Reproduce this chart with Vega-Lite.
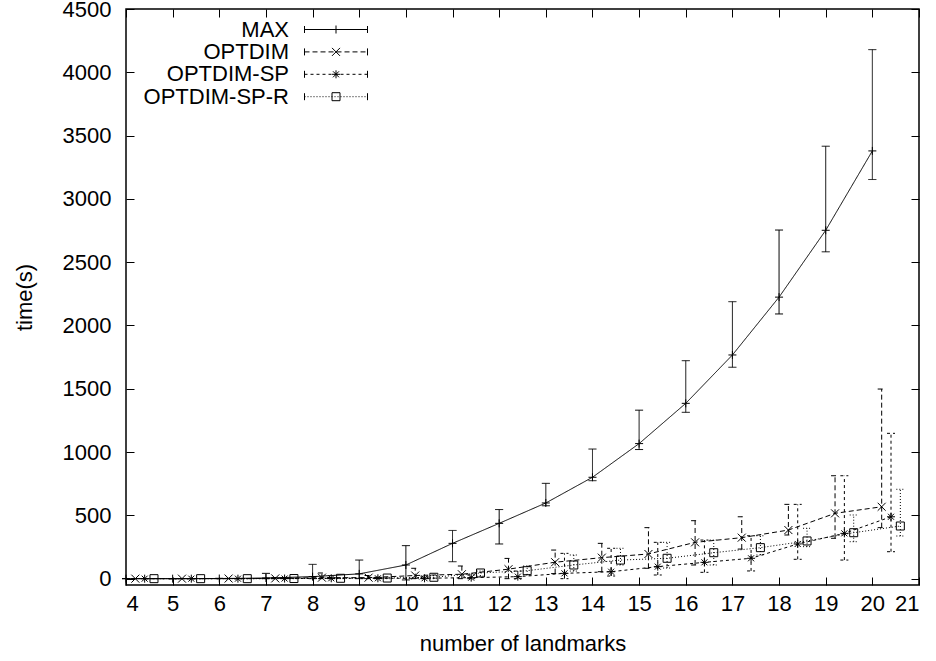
{
  "$schema": "https://vega.github.io/schema/vega-lite/v6.json",
  "width": 793,
  "height": 576,
  "autosize": "none",
  "padding": {"left": 126, "top": 9, "right": 17, "bottom": 76},
  "background": "white",
  "config": {
    "view": {"stroke": "black", "strokeWidth": 1.5},
    "axis": {
      "labelFont": "Liberation Sans", "labelFontSize": 22, "labelColor": "black",
      "titleFont": "Liberation Sans", "titleFontSize": 22, "titleFontWeight": "normal", "titleColor": "black",
      "grid": false, "domain": false, "tickColor": "black", "tickSize": -8, "tickWidth": 1, "format": "d"
    }
  },
  "data": {"values": [
    {"series": "MAX", "x": 4, "y": 0, "lo": 0, "hi": 1},
    {"series": "MAX", "x": 5, "y": 0, "lo": 0, "hi": 1},
    {"series": "MAX", "x": 6, "y": 1, "lo": 0, "hi": 3},
    {"series": "MAX", "x": 7, "y": 5, "lo": 0, "hi": 42},
    {"series": "MAX", "x": 8, "y": 16, "lo": 0, "hi": 113},
    {"series": "MAX", "x": 9, "y": 38, "lo": 0, "hi": 147},
    {"series": "MAX", "x": 10, "y": 108, "lo": -10, "hi": 261},
    {"series": "MAX", "x": 11, "y": 279, "lo": 134, "hi": 381},
    {"series": "MAX", "x": 12, "y": 437, "lo": 274, "hi": 546},
    {"series": "MAX", "x": 13, "y": 598, "lo": 576, "hi": 753},
    {"series": "MAX", "x": 14, "y": 801, "lo": 774, "hi": 1024},
    {"series": "MAX", "x": 15, "y": 1067, "lo": 1020, "hi": 1331},
    {"series": "MAX", "x": 16, "y": 1385, "lo": 1314, "hi": 1722},
    {"series": "MAX", "x": 17, "y": 1767, "lo": 1670, "hi": 2188},
    {"series": "MAX", "x": 18, "y": 2224, "lo": 2091, "hi": 2754},
    {"series": "MAX", "x": 19, "y": 2752, "lo": 2582, "hi": 3416},
    {"series": "MAX", "x": 20, "y": 3379, "lo": 3153, "hi": 4179},
    {"series": "OPTDIM", "x": 4.2, "y": 0, "lo": 0, "hi": 1},
    {"series": "OPTDIM", "x": 5.2, "y": 0, "lo": 0, "hi": 1},
    {"series": "OPTDIM", "x": 6.2, "y": 1, "lo": 0, "hi": 2},
    {"series": "OPTDIM", "x": 7.2, "y": 2, "lo": 0, "hi": 8},
    {"series": "OPTDIM", "x": 8.2, "y": 8, "lo": 0, "hi": 45},
    {"series": "OPTDIM", "x": 9.2, "y": 8, "lo": 0, "hi": 25},
    {"series": "OPTDIM", "x": 10.2, "y": 25, "lo": 0, "hi": 82},
    {"series": "OPTDIM", "x": 11.2, "y": 35, "lo": 0, "hi": 100},
    {"series": "OPTDIM", "x": 12.2, "y": 75, "lo": 0, "hi": 160},
    {"series": "OPTDIM", "x": 13.2, "y": 130, "lo": 40, "hi": 226},
    {"series": "OPTDIM", "x": 14.2, "y": 166, "lo": 55, "hi": 279},
    {"series": "OPTDIM", "x": 15.2, "y": 195, "lo": 82, "hi": 403},
    {"series": "OPTDIM", "x": 16.2, "y": 287, "lo": 108, "hi": 458},
    {"series": "OPTDIM", "x": 17.2, "y": 324, "lo": 234, "hi": 489},
    {"series": "OPTDIM", "x": 18.2, "y": 384, "lo": 345, "hi": 587},
    {"series": "OPTDIM", "x": 19.2, "y": 516, "lo": 319, "hi": 813},
    {"series": "OPTDIM", "x": 20.2, "y": 568, "lo": 403, "hi": 1498},
    {"series": "OPTDIM-SP", "x": 4.4, "y": 0, "lo": 0, "hi": 1},
    {"series": "OPTDIM-SP", "x": 5.4, "y": 0, "lo": 0, "hi": 1},
    {"series": "OPTDIM-SP", "x": 6.4, "y": 0, "lo": 0, "hi": 1},
    {"series": "OPTDIM-SP", "x": 7.4, "y": 1, "lo": 0, "hi": 3},
    {"series": "OPTDIM-SP", "x": 8.4, "y": 3, "lo": 0, "hi": 8},
    {"series": "OPTDIM-SP", "x": 9.4, "y": 3, "lo": 0, "hi": 10},
    {"series": "OPTDIM-SP", "x": 10.4, "y": 3, "lo": 0, "hi": 15},
    {"series": "OPTDIM-SP", "x": 11.4, "y": 8, "lo": 0, "hi": 30},
    {"series": "OPTDIM-SP", "x": 12.4, "y": 16, "lo": 0, "hi": 60},
    {"series": "OPTDIM-SP", "x": 13.4, "y": 42, "lo": 0, "hi": 200},
    {"series": "OPTDIM-SP", "x": 14.4, "y": 55, "lo": 21, "hi": 240},
    {"series": "OPTDIM-SP", "x": 15.4, "y": 95, "lo": 29, "hi": 287},
    {"series": "OPTDIM-SP", "x": 16.4, "y": 129, "lo": 50, "hi": 305},
    {"series": "OPTDIM-SP", "x": 17.4, "y": 161, "lo": 61, "hi": 339},
    {"series": "OPTDIM-SP", "x": 18.4, "y": 274, "lo": 153, "hi": 587},
    {"series": "OPTDIM-SP", "x": 19.4, "y": 358, "lo": 147, "hi": 813},
    {"series": "OPTDIM-SP", "x": 20.4, "y": 489, "lo": 213, "hi": 1148},
    {"series": "OPTDIM-SP-R", "x": 4.6, "y": 0, "lo": 0, "hi": 1},
    {"series": "OPTDIM-SP-R", "x": 5.6, "y": 0, "lo": 0, "hi": 1},
    {"series": "OPTDIM-SP-R", "x": 6.6, "y": 0, "lo": 0, "hi": 1},
    {"series": "OPTDIM-SP-R", "x": 7.6, "y": 1, "lo": 0, "hi": 3},
    {"series": "OPTDIM-SP-R", "x": 8.6, "y": 3, "lo": 0, "hi": 6},
    {"series": "OPTDIM-SP-R", "x": 9.6, "y": 5, "lo": 0, "hi": 10},
    {"series": "OPTDIM-SP-R", "x": 10.6, "y": 11, "lo": 0, "hi": 25},
    {"series": "OPTDIM-SP-R", "x": 11.6, "y": 45, "lo": 20, "hi": 60},
    {"series": "OPTDIM-SP-R", "x": 12.6, "y": 63, "lo": 30, "hi": 100},
    {"series": "OPTDIM-SP-R", "x": 13.6, "y": 108, "lo": 60, "hi": 187},
    {"series": "OPTDIM-SP-R", "x": 14.6, "y": 147, "lo": 108, "hi": 240},
    {"series": "OPTDIM-SP-R", "x": 15.6, "y": 161, "lo": 84, "hi": 287},
    {"series": "OPTDIM-SP-R", "x": 16.6, "y": 205, "lo": 108, "hi": 305},
    {"series": "OPTDIM-SP-R", "x": 17.6, "y": 245, "lo": 187, "hi": 339},
    {"series": "OPTDIM-SP-R", "x": 18.6, "y": 298, "lo": 253, "hi": 398},
    {"series": "OPTDIM-SP-R", "x": 19.6, "y": 363, "lo": 292, "hi": 503},
    {"series": "OPTDIM-SP-R", "x": 20.6, "y": 416, "lo": 337, "hi": 706}
  ]},
  "resolve": {"scale": {"shape": "independent"}, "axis": {"x": "independent", "y": "independent"}},
  "layer": [
    {
      "mark": {"type": "line", "color": "black", "strokeWidth": 1},
      "encoding": {
        "x": {"field": "x", "type": "quantitative", "scale": {"domain": [4, 21], "nice": false, "zero": false},
              "axis": {"orient": "bottom", "title": "number of landmarks", "values": [4,5,6,7,8,9,10,11,12,13,14,15,16,17,18,19,20,21], "labelPadding": 16, "titlePadding": 19}},
        "y": {"field": "y", "type": "quantitative", "scale": {"domain": [-50, 4500], "nice": false, "zero": false},
              "axis": {"orient": "left", "title": "time(s)", "values": [0,500,1000,1500,2000,2500,3000,3500,4000,4500], "labelPadding": 23, "titlePadding": 26}},
        "strokeDash": {"field": "series", "type": "nominal",
              "scale": {"domain": ["MAX", "OPTDIM", "OPTDIM-SP", "OPTDIM-SP-R"], "range": [[1, 0], [5, 3], [3, 3], [1, 2]]}, "legend": null},
        "detail": {"field": "series"}
      }
    },
    {
      "mark": {"type": "rule", "color": "black", "strokeWidth": 1},
      "encoding": {
        "x": {"field": "x", "type": "quantitative", "axis": null},
        "y": {"field": "lo", "type": "quantitative", "axis": null},
        "y2": {"field": "hi"},
        "strokeDash": {"field": "series", "type": "nominal", "legend": null}
      }
    },
    {
      "mark": {"type": "rule", "color": "black", "strokeWidth": 1, "xOffset": -4, "x2Offset": 4},
      "encoding": {
        "x": {"field": "x", "type": "quantitative", "axis": null},
        "x2": {"field": "x"},
        "y": {"field": "lo", "type": "quantitative", "axis": null},
        "strokeDash": {"field": "series", "type": "nominal", "legend": null}
      }
    },
    {
      "mark": {"type": "rule", "color": "black", "strokeWidth": 1, "xOffset": -4, "x2Offset": 4},
      "encoding": {
        "x": {"field": "x", "type": "quantitative", "axis": null},
        "x2": {"field": "x"},
        "y": {"field": "hi", "type": "quantitative", "axis": null},
        "strokeDash": {"field": "series", "type": "nominal", "legend": null}
      }
    },
    {
      "mark": {"type": "point", "filled": false, "color": "black", "strokeWidth": 1, "size": 4, "opacity": 1},
      "encoding": {
        "x": {"field": "x", "type": "quantitative", "axis": null},
        "y": {"field": "y", "type": "quantitative", "axis": null},
        "shape": {"field": "series", "type": "nominal", "legend": null,
          "scale": {"domain": ["MAX", "OPTDIM", "OPTDIM-SP", "OPTDIM-SP-R"],
                    "range": ["M-4,0H4M0,-4V4", "M-4,-4L4,4M-4,4L4,-4", "M-4,0H4M0,-4V4M-3,-3L3,3M-3,3L3,-3", "M-4,-4H4V4H-4Z"]}}
      }
    },
    {
      "mark": {"type": "point", "filled": false, "color": "black", "strokeWidth": 1, "size": 4, "opacity": 0},
      "encoding": {
        "x": {"field": "x", "type": "quantitative", "scale": {"domain": [4, 21], "nice": false, "zero": false},
              "axis": {"orient": "top", "labels": false, "title": null, "values": [4,5,6,7,8,9,10,11,12,13,14,15,16,17,18,19,20,21]}},
        "y": {"field": "y", "type": "quantitative", "scale": {"domain": [-50, 4500], "nice": false, "zero": false},
              "axis": {"orient": "right", "labels": false, "title": null, "values": [0,500,1000,1500,2000,2500,3000,3500,4000,4500]}},
        "shape": {"field": "series", "type": "nominal",
          "scale": {"domain": ["MAX", "OPTDIM", "OPTDIM-SP", "OPTDIM-SP-R"],
                    "range": [
                      "M-31.5,0H31.5M-31.5,-3.5V3.5M31.5,-3.5V3.5M0,-4V4",
                      "M-31.5,0H-26.5M-23.5,0H-18.5M-15.5,0H-10.5M-7.5,0H-2.5M0.5,0H5.5M8.5,0H13.5M16.5,0H21.5M24.5,0H29.5M-31.5,-3.5V3.5M31.5,-3.5V3.5M-4,-4L4,4M-4,4L4,-4",
                      "M-31.5,0H-28.5M-25.5,0H-22.5M-19.5,0H-16.5M-13.5,0H-10.5M-7.5,0H-4.5M-1.5,0H1.5M4.5,0H7.5M10.5,0H13.5M16.5,0H19.5M22.5,0H25.5M28.5,0H31.5M-31.5,-3.5V3.5M31.5,-3.5V3.5M-4,0H4M0,-4V4M-3,-3L3,3M-3,3L3,-3",
                      "M-31.5,0H-30.5M-28.5,0H-27.5M-25.5,0H-24.5M-22.5,0H-21.5M-19.5,0H-18.5M-16.5,0H-15.5M-13.5,0H-12.5M-10.5,0H-9.5M-7.5,0H-6.5M-4.5,0H-3.5M-1.5,0H-0.5M1.5,0H2.5M4.5,0H5.5M7.5,0H8.5M10.5,0H11.5M13.5,0H14.5M16.5,0H17.5M19.5,0H20.5M22.5,0H23.5M25.5,0H26.5M28.5,0H29.5M-31.5,-3.5V3.5M31.5,-3.5V3.5M-4,-4H4V4H-4Z"
                    ]},
          "legend": {"orient": "none", "legendX": 199, "legendY": 9.5, "title": null, "labelAlign": "right", "labelOffset": -58,
                     "labelFont": "Liberation Sans", "labelFontSize": 22, "labelColor": "black", "labelLimit": 400,
                     "symbolSize": 4, "symbolStrokeColor": "black", "symbolFillColor": "transparent", "symbolStrokeWidth": 1,
                     "symbolOpacity": 1, "rowPadding": 0.4, "padding": 0}}
      }
    }
  ]
}
